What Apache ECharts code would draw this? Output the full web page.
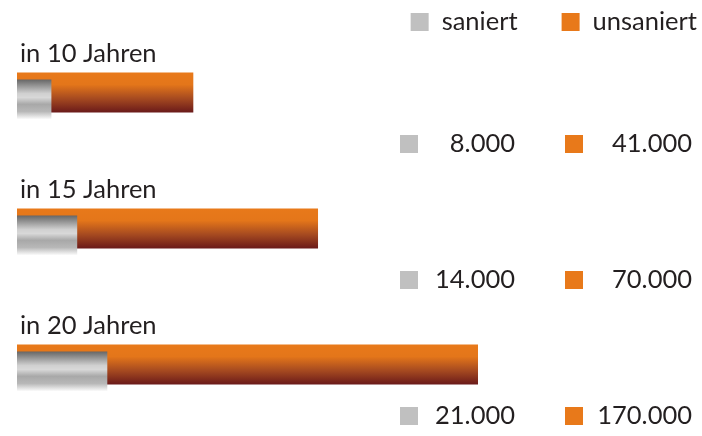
<!DOCTYPE html>
<html><head><meta charset="utf-8">
<script src="https://cdn.jsdelivr.net/npm/echarts@6/dist/echarts.min.js"></script>
<style>html,body{margin:0;padding:0;background:#fff}#c{width:702px;height:436px}</style>
</head><body><div id="c"></div>
<script>
const categories = ['in 10 Jahren', 'in 15 Jahren', 'in 20 Jahren'];
const saniert = [8000, 14000, 21000];
const unsaniert = [41000, 70000, 170000];
const seriesNames = ['saniert', 'unsaniert'];
// the longest bar is cut at the right edge of the plot, as in the reference
const axisMax = 107200;

const FONT = 'Lato';
const FS = 25.5;
const TEXT = '#231f20';
const ORANGE = '#e8791a';
const GREY = '#c0c0c0';

function fmt(v) { return String(v).replace(/\B(?=(\d{3})+(?!\d))/g, '.'); }

const orangeGrad = new echarts.graphic.LinearGradient(0, 0, 0, 1, [
  {offset: 0, color: '#e8791a'}, {offset: 0.3, color: '#e4761a'},
  {offset: 0.65, color: '#a64a20'}, {offset: 1, color: '#6a1a1a'}]);
const greyGrad = new echarts.graphic.LinearGradient(0, 0, 0, 1, [
  {offset: 0, color: '#666666'}, {offset: 0.35, color: '#d0d0d0'},
  {offset: 0.45, color: '#d8d8d8'}, {offset: 0.62, color: '#a8a8a8'},
  {offset: 0.8, color: '#b8b8b8'}, {offset: 1, color: '#ffffff'}]);

const chart = echarts.init(document.getElementById('c'), null, {renderer: 'canvas'});
chart.setOption({
  animation: false,
  backgroundColor: '#fff',
  textStyle: {fontFamily: FONT},
  legend: {
    right: 0, top: 4, itemWidth: 18, itemHeight: 18, itemGap: 44, icon: 'rect',
    textStyle: {fontFamily: FONT, fontSize: FS, color: TEXT, padding: [0, 0, 0, 8]},
    data: [{name: seriesNames[0], itemStyle: {color: GREY}},
           {name: seriesNames[1], itemStyle: {color: ORANGE}}]
  },
  grid: {left: 17, top: 28, width: 461, height: 420},
  xAxis: {type: 'value', min: 0, max: axisMax, show: false},
  yAxis: {type: 'category', data: categories, inverse: true, show: false},
  series: [
    {name: seriesNames[1], type: 'bar', data: unsaniert, barWidth: 40, barGap: '-82.5%',
     clip: true, z: 2, itemStyle: {color: orangeGrad}},
    {name: seriesNames[0], type: 'bar', data: saniert, barWidth: 40, barGap: '-82.5%',
     clip: true, z: 3, itemStyle: {color: greyGrad}}
  ]
});

const els = [];
categories.forEach((c, i) => {
  const yc = chart.convertToPixel({yAxisIndex: 0}, c);
  els.push({type: 'text', x: 20, y: yc - 42, style: {text: c, fontFamily: FONT, fontSize: FS,
    fill: TEXT, align: 'left', verticalAlign: 'middle'}});
  const yv = yc + 48;
  els.push({type: 'rect', shape: {x: 400, y: yv - 9, width: 18, height: 18}, style: {fill: GREY}});
  els.push({type: 'rect', shape: {x: 565, y: yv - 9, width: 18, height: 18}, style: {fill: ORANGE}});
  els.push({type: 'text', x: 515, y: yv, style: {text: fmt(saniert[i]), fontFamily: FONT, fontSize: FS,
    fill: TEXT, align: 'right', verticalAlign: 'middle'}});
  els.push({type: 'text', x: 692, y: yv, style: {text: fmt(unsaniert[i]), fontFamily: FONT, fontSize: FS,
    fill: TEXT, align: 'right', verticalAlign: 'middle'}});
});
chart.setOption({graphic: els});
</script></body></html>
